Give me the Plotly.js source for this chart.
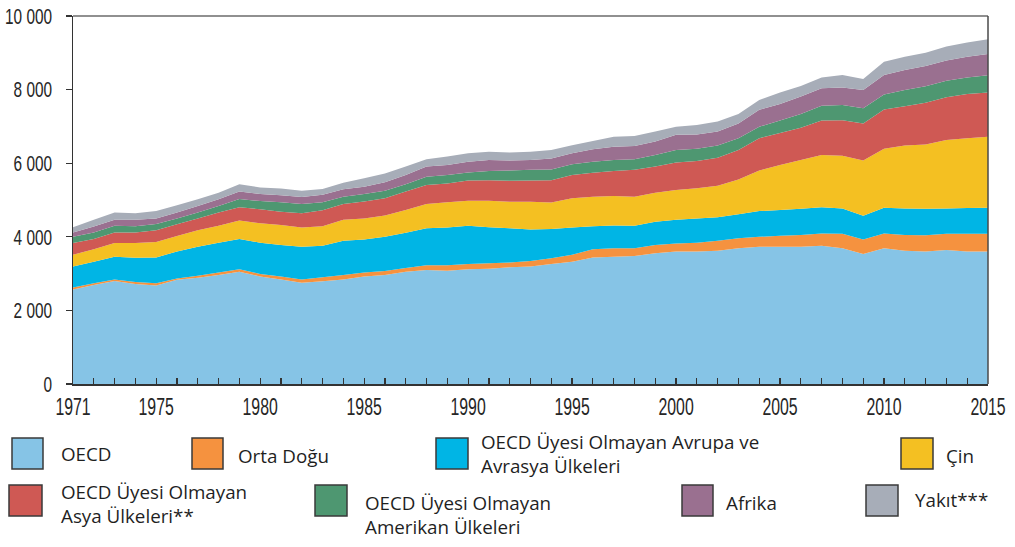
<!DOCTYPE html>
<html>
<head>
<meta charset="utf-8">
<script src="https://cdn.plot.ly/plotly-3.0.1.min.js"></script>
<style>
  html, body { margin: 0; padding: 0; background: #ffffff; }
  #chart { width: 1015px; height: 547px; }
</style>
</head>
<body>
<div id="chart"></div>
<script>
// ---------- DATA (Mtoe) ----------
const years = [1971,1972,1973,1974,1975,1976,1977,1978,1979,1980,1981,1982,1983,1984,1985,1986,1987,1988,1989,1990,1991,1992,1993,1994,1995,1996,1997,1998,1999,2000,2001,2002,2003,2004,2005,2006,2007,2008,2009,2010,2011,2012,2013,2014,2015];

const oecd      = [2570,2690,2800,2720,2680,2830,2890,2960,3050,2920,2840,2750,2790,2840,2920,2960,3050,3100,3080,3120,3130,3170,3190,3260,3320,3440,3460,3480,3550,3600,3600,3620,3690,3730,3730,3730,3760,3690,3530,3690,3620,3600,3640,3600,3600];
const ortaDogu  = [50,50,40,50,60,40,50,70,70,70,80,90,110,120,110,110,100,130,150,140,150,130,150,160,190,220,230,210,230,220,240,270,270,270,300,320,330,390,400,400,430,440,440,480,480];
const avrasya   = [570,580,620,660,700,730,790,810,820,850,860,890,860,930,900,930,960,1000,1020,1040,980,930,860,790,740,630,620,610,630,640,660,640,650,700,700,710,710,690,640,700,720,720,690,700,710];
const cin       = [320,340,370,400,420,420,450,460,500,530,540,520,530,570,570,580,620,660,690,680,720,720,750,720,800,800,800,790,790,810,820,860,950,1100,1220,1330,1420,1430,1500,1600,1710,1750,1860,1900,1930];
const asya      = [320,280,290,290,320,320,320,360,360,380,360,390,430,430,460,470,500,520,510,550,560,570,580,610,630,650,680,730,710,750,740,760,800,880,870,870,940,970,1010,1070,1070,1130,1160,1200,1200];
const amerika   = [170,180,180,170,170,160,160,180,230,220,260,250,220,200,200,200,200,220,230,220,250,280,290,290,290,300,300,290,310,340,330,330,320,310,340,380,400,410,410,410,440,450,450,450,470];
const afrika    = [120,160,160,170,150,160,180,180,200,190,190,190,200,200,200,230,250,280,270,290,300,270,270,300,300,340,360,360,370,410,390,380,400,460,450,470,480,480,500,530,540,550,550,560,580];
const yakit     = [140,180,200,180,200,200,180,180,200,180,180,170,160,180,230,240,230,200,230,230,220,220,220,230,220,220,270,270,270,220,260,270,260,270,310,290,290,340,300,360,360,360,380,390,400];

const seriesNames = ["OECD", "Orta Doğu", "OECD Üyesi Olmayan Avrupa ve Avrasya Ülkeleri", "Çin",
                     "OECD Üyesi Olmayan Asya Ülkeleri**", "OECD Üyesi Olmayan Amerikan Ülkeleri", "Afrika", "Yakıt***"];
const xTickLabelYears = [1971,1975,1980,1985,1990,1995,2000,2005,2010,2015];
const yTickVals = [0,2000,4000,6000,8000,10000];
const yTickText = ["0","2 000","4 000","6 000","8 000","10 000"];

// legend text lines (as shown in the picture)
const legendLines = [
  ["OECD"],
  ["Orta Doğu"],
  ["OECD Üyesi Olmayan Avrupa ve", "Avrasya Ülkeleri"],
  ["Çin"],
  ["OECD Üyesi Olmayan", "Asya Ülkeleri**"],
  ["OECD Üyesi Olmayan", "Amerikan Ülkeleri"],
  ["Afrika"],
  ["Yakıt***"]
];

// ---------- STYLE ----------
const colors = ["#86C4E6", "#F5923F", "#00B5E5", "#F4C022", "#CF5954", "#4E9771", "#9A7090", "#A7ADB8"];
const seriesData = [oecd, ortaDogu, avrasya, cin, asya, amerika, afrika, yakit];

const traces = seriesData.map((vals, i) => ({
  type: "scatter",
  x: years,
  y: vals,
  name: seriesNames[i],
  stackgroup: "one",
  mode: "none",
  fillcolor: colors[i],
  line: { width: 0, color: colors[i] },
  hoverinfo: "x+y+name",
  showlegend: false
}));

// plot-area pixel box
const L = 73, R = 988, T = 16, B = 384;
const fx = px => (px - L) / (R - L);
const fy = py => (B - py) / (B - T);

// legend layout (pixel boxes of swatches and text anchors)
const legendLayout = [
  { sw: [12, 43, 438, 469],   tx: 59,  ty: [454] },
  { sw: [192, 223, 438, 469], tx: 236, ty: [456] },
  { sw: [436, 468, 438, 469], tx: 479, ty: [442, 466] },
  { sw: [901, 933, 438, 469], tx: 944, ty: [456] },
  { sw: [9, 42, 485, 516],    tx: 59,  ty: [492, 516] },
  { sw: [315, 347, 485, 516], tx: 363, ty: [503, 527] },
  { sw: [682, 713, 485, 516], tx: 724, ty: [503] },
  { sw: [866, 898, 485, 516], tx: 913, ty: [500] }
];

const shapes = [
  { type: "line", xref: "paper", yref: "paper", x0: 0, x1: 1, y0: 1, y1: 1,
    line: { color: "#6b6b6b", width: 1.5 } },
  { type: "line", xref: "paper", yref: "paper", x0: 1, x1: 1, y0: 0, y1: 1,
    line: { color: "#4a4a4a", width: 1.5 } }
];
const annotations = [];
const legendFont = { family: "'Open Sans', 'Noto Sans', sans-serif", size: 18.8, color: "#1f1f1f" };

legendLayout.forEach((it, i) => {
  shapes.push({
    type: "rect", xref: "paper", yref: "paper",
    x0: fx(it.sw[0]), x1: fx(it.sw[1]), y0: fy(it.sw[3]), y1: fy(it.sw[2]),
    fillcolor: colors[i], line: { color: "#3a3a3a", width: 1.5 }, layer: "above"
  });
  legendLines[i].forEach((line, j) => {
    annotations.push({
      xref: "paper", yref: "paper", x: fx(it.tx), y: fy(it.ty[j]),
      xanchor: "left", yanchor: "middle", showarrow: false,
      text: line, font: legendFont
    });
  });
});

const xTickFont = { family: "'Liberation Sans', Arial, sans-serif", size: 24, color: "#262626" };
const yTickFont = { family: "'Liberation Sans', Arial, sans-serif", size: 22, color: "#262626" };

const layout = {
  width: 1015,
  height: 547,
  margin: { l: L, r: 1015 - R, t: T, b: 547 - B, pad: 0 },
  paper_bgcolor: "#ffffff",
  plot_bgcolor: "#ffffff",
  showlegend: false,
  xaxis: {
    range: [1971, 2015],
    tickmode: "array",
    tickvals: years,
    ticktext: years.map(y => xTickLabelYears.includes(y) ? String(y) : ""),
    ticks: "inside",
    ticklen: 6,
    tickwidth: 1.2,
    tickcolor: "#333333",
    showline: true,
    linecolor: "#333333",
    linewidth: 1.5,
    showgrid: false,
    zeroline: false,
    tickfont: xTickFont,
    ticklabelstandoff: 1
  },
  yaxis: {
    range: [0, 10000],
    tickmode: "array",
    tickvals: yTickVals,
    ticktext: yTickText,
    ticks: "outside",
    ticklen: 6,
    tickwidth: 1.2,
    tickcolor: "#333333",
    showline: true,
    linecolor: "#333333",
    linewidth: 1.5,
    showgrid: false,
    zeroline: false,
    tickfont: yTickFont,
    ticklabelstandoff: 9
  },
  shapes: shapes,
  annotations: annotations
};

// condense tick labels horizontally (narrow typeface look), keeping their anchor point
function condenseTicks(gd, selector, s) {
  gd.querySelectorAll(selector).forEach(t => {
    const bb = t.getBBox();
    const anchor = t.getAttribute("text-anchor") || "start";
    let px = bb.x + bb.width / 2;
    if (anchor === "end") px = bb.x + bb.width;
    else if (anchor === "start") px = bb.x;
    const py = bb.y + bb.height / 2;
    const prev = t.getAttribute("transform") || "";
    t.setAttribute("transform", prev + " translate(" + px + "," + py + ") scale(" + s + ",1) translate(" + (-px) + "," + (-py) + ")");
  });
}

Plotly.newPlot("chart", traces, layout, { displayModeBar: false, staticPlot: true })
  .then(gd => {
    condenseTicks(gd, "g.xtick text", 0.66);
    condenseTicks(gd, "g.ytick text", 0.70);
  });
</script>
</body>
</html>
